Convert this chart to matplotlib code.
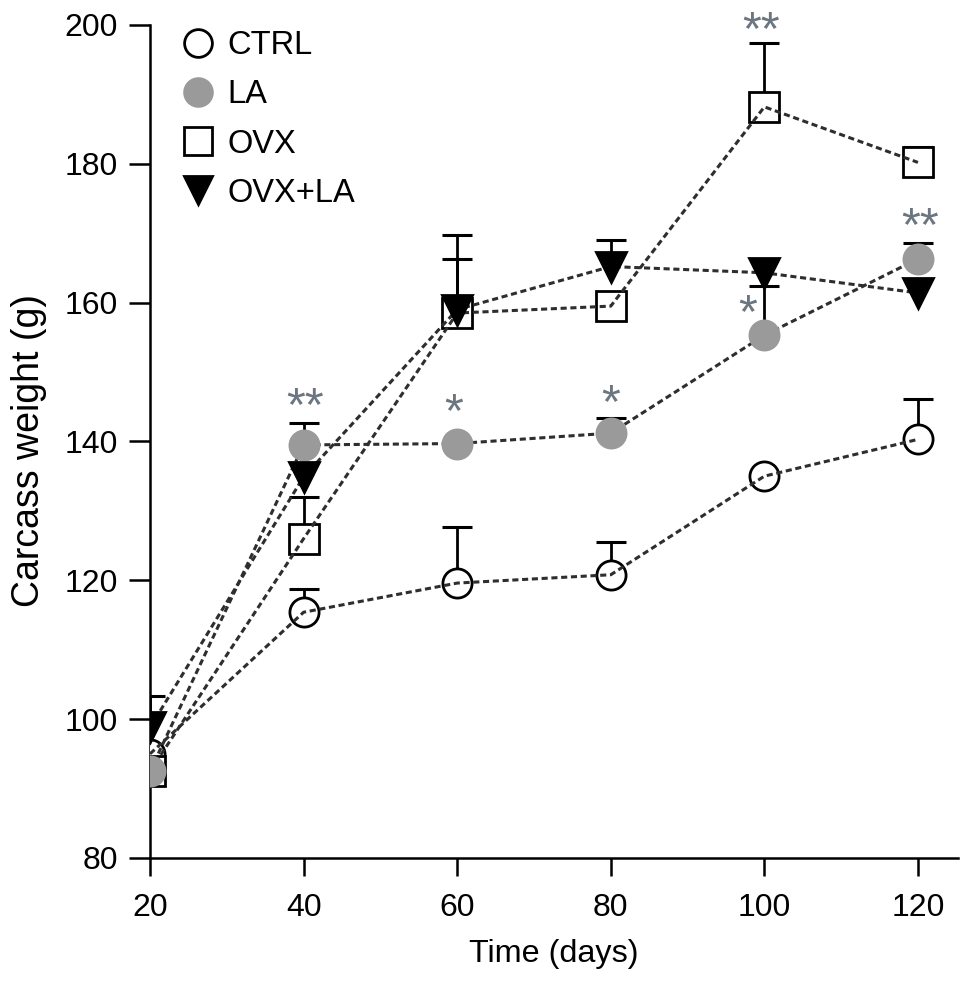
import matplotlib
matplotlib.use("Agg")
import matplotlib.pyplot as plt
from matplotlib.lines import Line2D

plt.rcParams["font.family"] = ["Liberation Sans", "DejaVu Sans"]

# ── 資料 ──────────────────────────────────────────────
days = [20, 40, 60, 80, 100, 120]

ctrl = [95.0, 115.4, 119.6, 120.8, 135.0, 140.3]
ctrl_err = [0.0, 3.3, 8.1, 4.7, 0.0, 5.8]

la = [92.5, 139.5, 139.7, 141.2, 155.3, 166.3]
la_err = [0.0, 3.2, 0.0, 2.2, 7.1, 2.3]

ovx = [92.5, 126.0, 158.5, 159.5, 188.2, 180.2]
ovx_err = [0.0, 6.0, 7.8, 0.0, 9.2, 2.2]

ovx_la = [98.8, 134.9, 159.0, 165.2, 164.3, 161.4]
ovx_la_err = [4.5, 0.0, 10.8, 3.8, 0.0, 0.0]

labels = ["CTRL", "LA", "OVX", "OVX+LA"]

# 顯著性星號 (x, y, 文字)
star_x = [40.2, 59.6, 80.0, 97.8, 99.6, 120.3]
star_y = [146.3, 145.4, 146.7, 159.7, 200.4, 172.2]
star_txt = ["**", "*", "*", "*", "**", "**"]

# ── 繪圖 ──────────────────────────────────────────────
fig = plt.figure(figsize=(9.71, 9.83), dpi=100)
ax = fig.add_axes([0.1545, 0.1272, 0.832, 0.8474])

series = [
    (ctrl, ctrl_err, "o", "white", "black", False),
    (la, la_err, "o", "#9a9a9a", "#9a9a9a", True),
    (ovx, ovx_err, "s", "white", "black", False),
    (ovx_la, ovx_la_err, "v", "black", "black", True),
]

for vals, err, mk, fc, ec, filled in series:
    # 只畫上方誤差線（err = 0 表示看不到）
    ex = [d for d, e in zip(days, err) if e > 0]
    ey = [v for v, e in zip(vals, err) if e > 0]
    etop = [v + e for v, e in zip(vals, err) if e > 0]
    ax.vlines(ex, ey, etop, colors="black", lw=2.0, zorder=2)
    ax.plot(ex, etop, ls="none", marker="_", ms=22, mew=2.2,
            color="black", zorder=2)
    ax.plot(days, vals, ls="none", marker=mk, ms=21, mfc=fc, mec=ec,
            mew=2.0, zorder=5 if filled else 3)
    ax.plot(days, vals, ls=(0, (2.0, 1.2)), color="#2e2e2e", lw=2.2,
            zorder=4)

fs_star = 35
for sx, sy, st in zip(star_x, star_y, star_txt):
    ax.annotate(st, (sx, sy), xytext=(0, -0.45 * fs_star),
                textcoords="offset points", ha="center", va="baseline",
                fontsize=fs_star, color="#6c7680", zorder=6,
                annotation_clip=False)

ax.set_xlim(20, 125.2)
ax.set_ylim(80, 200)
ax.set_xticks([20, 40, 60, 80, 100, 120])
ax.set_yticks([80, 100, 120, 140, 160, 180, 200])

for side in ["top", "right"]:
    ax.spines[side].set_visible(False)
for side in ["left", "bottom"]:
    ax.spines[side].set_linewidth(1.8)
ax.tick_params(axis="both", direction="out", width=1.8, labelsize=23)
ax.tick_params(axis="x", length=13, pad=12)
ax.tick_params(axis="y", length=15, pad=8)

ax.set_xlabel("Time (days)", fontsize=23.3, labelpad=12)
ax.set_ylabel("Carcass weight (g)", fontsize=27)
ax.yaxis.set_label_coords(-0.1275, 0.4886)

handles = [
    Line2D([], [], ls="none", marker="o", ms=20, mfc="white", mec="black", mew=2.0),
    Line2D([], [], ls="none", marker="o", ms=20, mfc="#9a9a9a", mec="#9a9a9a", mew=2.0),
    Line2D([], [], ls="none", marker="s", ms=20, mfc="white", mec="black", mew=2.0),
    Line2D([], [], ls="none", marker="v", ms=20, mfc="black", mec="black", mew=2.0),
]
ax.legend(handles, labels, loc="upper left", bbox_to_anchor=(0.041, 0.994),
          frameon=False, fontsize=23.5, handlelength=0.9, handletextpad=0.45,
          labelspacing=0.56, borderaxespad=0, borderpad=0)

fig.savefig("out.png", dpi=100)
